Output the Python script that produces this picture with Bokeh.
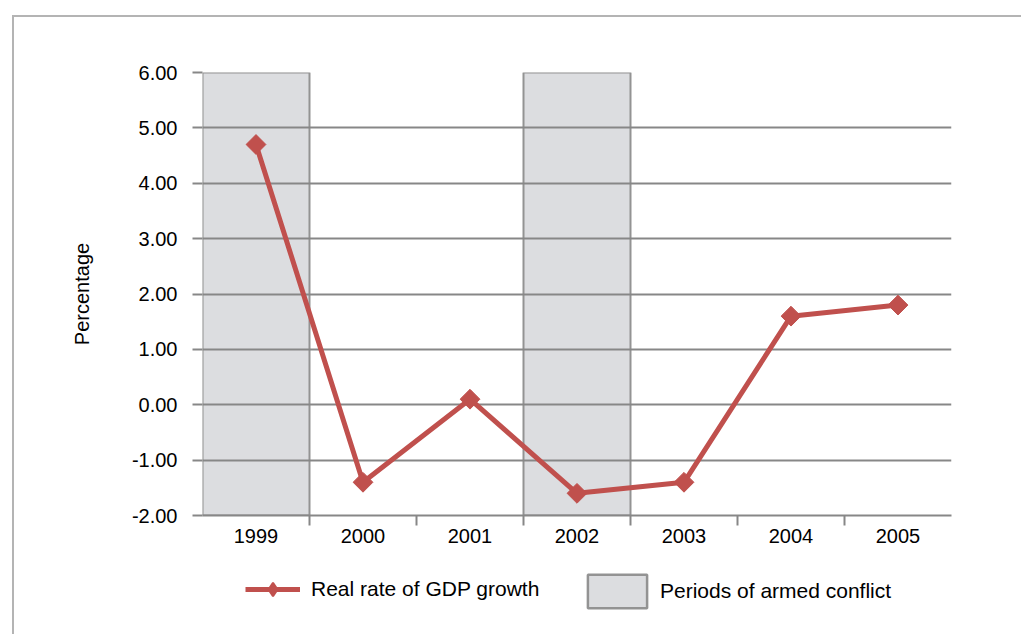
import math
from bokeh.plotting import figure
from bokeh.layouts import column
from bokeh.models import (FixedTicker, NumeralTickFormatter, Legend, LegendItem,
                          ColumnDataSource)
from bokeh.embed import file_html
from bokeh.resources import INLINE

years = ["1999", "2000", "2001", "2002", "2003", "2004", "2005"]
gdp_growth = [4.7, -1.4, 0.1, -1.6, -1.4, 1.6, 1.8]
conflict_years = ["1999", "2002"]
y_ticks = [-2, -1, 0, 1, 2, 3, 4, 5, 6]
series_label = "Real rate of GDP growth"
conflict_label = "Periods of armed conflict"

FONT = "Liberation Sans"
FS = "20px"
LFS = "21px"
GRID = "#878787"
RED = "#c0504d"
FRAME = "#b4b4b4"
BOX_FILL = "#dcdde0"
BOX_LINE = "#939393"

x_pos = [i + 0.5 for i in range(len(years))]
line_src = ColumnDataSource(dict(x=x_pos, y=gdp_growth))
cidx = [years.index(c) for c in conflict_years]
box_src = ColumnDataSource(dict(left=[i for i in cidx], right=[i + 1 for i in cidx],
                                bottom=[y_ticks[0]] * len(cidx), top=[y_ticks[-1]] * len(cidx)))

bg = (f"linear-gradient({FRAME},{FRAME}) 12px 15px / 2px 100% no-repeat, "
      f"linear-gradient({FRAME},{FRAME}) 12px 15px / 100% 2px no-repeat, white")

p = figure(width=1021, height=560, x_range=(0, len(years)), y_range=(y_ticks[0], y_ticks[-1]),
           output_backend="svg", toolbar_location=None,
           min_border_left=202, min_border_right=70, min_border_top=72, min_border_bottom=45)
p.outline_line_color = None
p.background_fill_color = "white"
p.border_fill_alpha = 0

p.quad(left="left", right="right", bottom="bottom", top="top", source=box_src,
       fill_color=BOX_FILL, line_color=BOX_LINE, line_width=2, level="image")

p.xgrid.visible = False
p.ygrid.ticker = FixedTicker(ticks=y_ticks)
p.ygrid.grid_line_color = GRID
p.ygrid.grid_line_width = 2

p.line("x", "y", source=line_src, line_color=RED, line_width=5)
p.scatter("x", "y", source=line_src, marker="square", angle=math.pi / 4, size=14,
          fill_color=RED, line_color=RED)

# y axis
ya = p.yaxis[0]
ya.ticker = FixedTicker(ticks=y_ticks)
ya.formatter = NumeralTickFormatter(format="0.00")
ya.axis_line_color = None
ya.major_tick_line_color = GRID
ya.major_tick_line_width = 2
ya.major_tick_out = 10
ya.major_tick_in = 0
ya.minor_tick_line_color = None
ya.major_label_text_font = FONT
ya.major_label_text_font_size = FS
ya.major_label_text_color = "black"
ya.major_label_standoff = 15
ya.axis_label = "Percentage"
ya.axis_label_text_font = FONT
ya.axis_label_text_font_size = FS
ya.axis_label_text_font_style = "normal"
ya.axis_label_text_color = "black"
ya.axis_label_standoff = 36

# x axis
xa = p.xaxis[0]
xa.ticker = FixedTicker(ticks=x_pos, minor_ticks=list(range(1, len(years))))
xa.major_label_overrides = {x: y for x, y in zip(x_pos, years)}
xa.axis_line_color = GRID
xa.axis_line_width = 2
xa.major_tick_line_color = None
xa.minor_tick_line_color = GRID
xa.minor_tick_line_width = 2
xa.minor_tick_out = 10
xa.minor_tick_in = 0
xa.major_label_text_font = FONT
xa.major_label_text_font_size = FS
xa.major_label_text_color = "black"
xa.major_label_standoff = 3

# legend strip (separate figure so the legend is not clipped by the chart frame)
lf = figure(width=1021, height=74, x_range=(0, 1), y_range=(0, 1),
            output_backend="svg", toolbar_location=None,
            min_border=0, min_border_left=0, min_border_right=0,
            min_border_top=0, min_border_bottom=0)
lf.axis.visible = False
lf.grid.visible = False
lf.outline_line_color = None
lf.background_fill_alpha = 0
lf.border_fill_alpha = 0
l_line = lf.line("x", "y", source=line_src, line_color=RED, line_width=5, visible=False)
l_pts = lf.scatter("x", "y", source=line_src, marker="diamond", size=16,
                   fill_color=RED, line_color=RED, line_width=2, visible=False)
l_box = lf.quad(left="left", right="right", bottom="bottom", top="top", source=box_src,
                fill_color=BOX_FILL, line_color=BOX_LINE, line_width=2.5, visible=False)

common = dict(orientation="horizontal", padding=0, margin=0,
              label_text_font=FONT, label_text_font_size=LFS, label_text_color="black",
              inactive_fill_alpha=0, border_line_color=None, background_fill_alpha=0)

legend1 = Legend(items=[LegendItem(label=series_label, renderers=[l_line, l_pts], index=0)],
                 location=(43, 28), glyph_width=55, glyph_height=34, label_standoff=11,
                 **common)
legend2 = Legend(items=[LegendItem(label=conflict_label, renderers=[l_box], index=0)],
                 location=(378, 22), glyph_width=74, glyph_height=42, label_standoff=6,
                 **common)
lf.add_layout(legend1, "center")
lf.add_layout(legend2, "center")

layout = column(p, lf, spacing=0, styles={"background": bg})
open("out.html", "w").write(file_html(layout, INLINE))
